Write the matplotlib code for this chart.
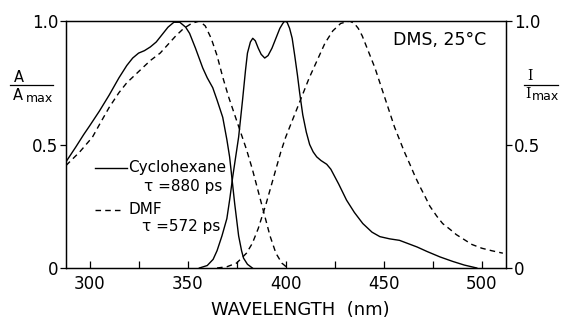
import matplotlib
matplotlib.use("Agg")
import matplotlib.pyplot as plt
from matplotlib.lines import Line2D

plt.rcParams['font.family'] = ['DejaVu Sans']

# Absorption, cyclohexane (solid)
abs_cyc_wl = [288, 290.5, 293, 297, 300, 305, 310, 315, 319, 322, 325, 328, 331, 334, 337, 340, 343,
              346, 349, 351, 354, 357.7, 360, 362.8, 365, 367.9, 370, 371.4, 372.5, 374, 376, 377.5,
              378.5, 380.5, 383]
abs_cyc_val = [0.43, 0.46, 0.49, 0.54, 0.575, 0.635, 0.70, 0.77, 0.82, 0.85, 0.87, 0.88, 0.895,
               0.915, 0.945, 0.975, 0.995, 0.995, 0.975, 0.95, 0.89, 0.81, 0.77, 0.73, 0.68, 0.61,
               0.52, 0.45, 0.37, 0.26, 0.13, 0.07, 0.04, 0.015, 0.0]

# Fluorescence, cyclohexane (solid)
fl_cyc_wl = [356, 360, 363, 365, 367.5, 370, 371.5, 373, 374.5, 376, 378, 379.5, 380.5, 382, 383.2,
             384.5, 386, 387.5, 389.3, 391, 393, 395, 397, 398.5, 399.5, 400.7, 402, 403.3, 404.6,
             406, 407.1, 408.7, 410.5, 412.2, 414, 415.8, 418, 420.9, 423, 425, 427, 431, 435,
             439.3, 444, 448, 453, 458, 462, 467, 472, 478.6, 485, 491, 497.4]
fl_cyc_val = [0.0, 0.01, 0.035, 0.07, 0.13, 0.2, 0.28, 0.37, 0.45, 0.53, 0.68, 0.80, 0.87, 0.915,
              0.93, 0.92, 0.89, 0.865, 0.85, 0.86, 0.89, 0.93, 0.97, 0.99, 1.0, 0.995, 0.97, 0.93,
              0.86, 0.78, 0.71, 0.62, 0.55, 0.50, 0.47, 0.45, 0.435, 0.42, 0.40, 0.37, 0.34, 0.275,
              0.225, 0.18, 0.145, 0.127, 0.118, 0.112, 0.10, 0.085, 0.067, 0.045, 0.027, 0.012, 0.0]

# Absorption, DMF (dashed)
abs_dmf_wl = [288, 295, 301.5, 305, 310, 315, 319, 323, 327, 331, 336, 340, 344, 348, 352, 356, 359,
              362, 365, 368, 371, 374, 377, 380, 383, 386, 389, 392, 395, 398, 401]
abs_dmf_val = [0.415, 0.47, 0.53, 0.58, 0.65, 0.71, 0.75, 0.78, 0.81, 0.84, 0.87, 0.905, 0.94, 0.97,
               0.99, 1.0, 0.98, 0.93, 0.86, 0.77, 0.69, 0.62, 0.55, 0.48, 0.40, 0.31, 0.22, 0.13,
               0.06, 0.02, 0.0]

# Fluorescence, DMF (dashed)
fl_dmf_wl = [365, 370, 375, 380, 383, 386, 388, 390, 392.5, 395, 397.5, 400, 404, 408, 412, 416, 420,
             424, 428, 432.6, 435, 437, 439, 441, 443, 445.5, 448, 450.5, 453, 455.5, 458, 460.5,
             463.3, 466, 468.4, 471, 473.5, 477, 480, 484, 487, 491, 495, 500, 505, 510.7]
fl_dmf_val = [0.0, 0.005, 0.02, 0.06, 0.10, 0.16, 0.21, 0.26, 0.33, 0.40, 0.47, 0.53, 0.61, 0.69,
              0.77, 0.84, 0.91, 0.96, 0.99, 1.0, 0.99, 0.97, 0.94, 0.90, 0.86, 0.81, 0.75, 0.69,
              0.63, 0.57, 0.52, 0.47, 0.42, 0.37, 0.33, 0.29, 0.25, 0.21, 0.18, 0.155, 0.135,
              0.115, 0.095, 0.08, 0.07, 0.06]

x_ticks = [300, 350, 400, 450, 500]
x_minor = [325, 375, 425, 475]
y_ticks = [0, 0.5, 1.0]
y_labels = ['0', '0.5', '1.0']

fig = plt.figure(figsize=(5.65, 3.2), dpi=100)
ax = fig.add_axes([66/565, 1-268/320, (506-66)/565, (268-21)/320])

lw = 1.0
ax.plot(abs_cyc_wl, abs_cyc_val, color='black', lw=lw)
ax.plot(fl_cyc_wl, fl_cyc_val, color='black', lw=lw)
ax.plot(abs_dmf_wl, abs_dmf_val, color='black', lw=lw, dashes=(4, 3))
ax.plot(fl_dmf_wl, fl_dmf_val, color='black', lw=lw, dashes=(4, 3))

ax.set_xlim(288, 512.3)
ax.set_ylim(0, 1.0)

for s in ax.spines.values():
    s.set_linewidth(0.9)

ax.set_xticks(x_ticks)
ax.set_xticks(x_minor, minor=True)
ax.set_xticklabels([str(v) for v in x_ticks], fontsize=12)
ax.tick_params(axis='x', which='both', direction='in', length=5, width=0.9, pad=5)
ax.tick_params(axis='x', which='minor', labelbottom=False)

ax.set_yticks(y_ticks)
ax.set_yticklabels(y_labels, fontsize=12)
ax.tick_params(axis='y', direction='out', length=4, width=0.9, pad=1.5)

ax2 = ax.twinx()
ax2.set_ylim(0, 1.0)
ax2.set_yticks(y_ticks)
ax2.set_yticklabels(y_labels, fontsize=12)
ax2.tick_params(axis='y', direction='out', length=4, width=0.9, pad=1.5)
for s in ax2.spines.values():
    s.set_linewidth(0.9)

fig.text(300/565, 1-310/320, 'WAVELENGTH  (nm)', fontsize=13, ha='center', va='center')

# Left y-label as fraction
fig.text(19/565, 1-77/320, 'A', fontsize=10.5, ha='center', va='center')
fig.add_artist(Line2D([10/565, 53/565], [1-85/320, 1-85/320], color='black', lw=0.9))
fig.text(13/565, 1-96/320, 'A', fontsize=10.5, ha='left', va='center')
fig.text(26/565, 1-99/320, 'max', fontsize=9, ha='left', va='center')

# Right y-label as fraction
fig.text(530/565, 1-76/320, 'I', fontsize=10, ha='center', va='center', family='DejaVu Serif')
fig.add_artist(Line2D([524/565, 558/565], [1-85/320, 1-85/320], color='black', lw=0.9))
fig.text(525/565, 1-94/320, 'I', fontsize=10, ha='left', va='center', family='DejaVu Serif')
fig.text(532/565, 1-97/320, 'max', fontsize=9, ha='left', va='center')

ax.text(478.6, 0.923, 'DMS, 25°C', fontsize=12.5, ha='center', va='center')

# Legend drawn manually
ax.plot([302.6, 318.9], [0.405, 0.405], color='black', lw=lw)
ax.text(319.9, 0.405, 'Cyclohexane', fontsize=11, ha='left', va='center')
ax.text(328, 0.328, 'τ =880 ps', fontsize=11, ha='left', va='center')
ax.plot([302.6, 317.5], [0.235, 0.235], color='black', lw=lw, dashes=(4, 3))
ax.text(319.9, 0.235, 'DMF', fontsize=11, ha='left', va='center')
ax.text(326.5, 0.166, 'τ =572 ps', fontsize=11, ha='left', va='center')

fig.savefig('out.png', dpi=100)
